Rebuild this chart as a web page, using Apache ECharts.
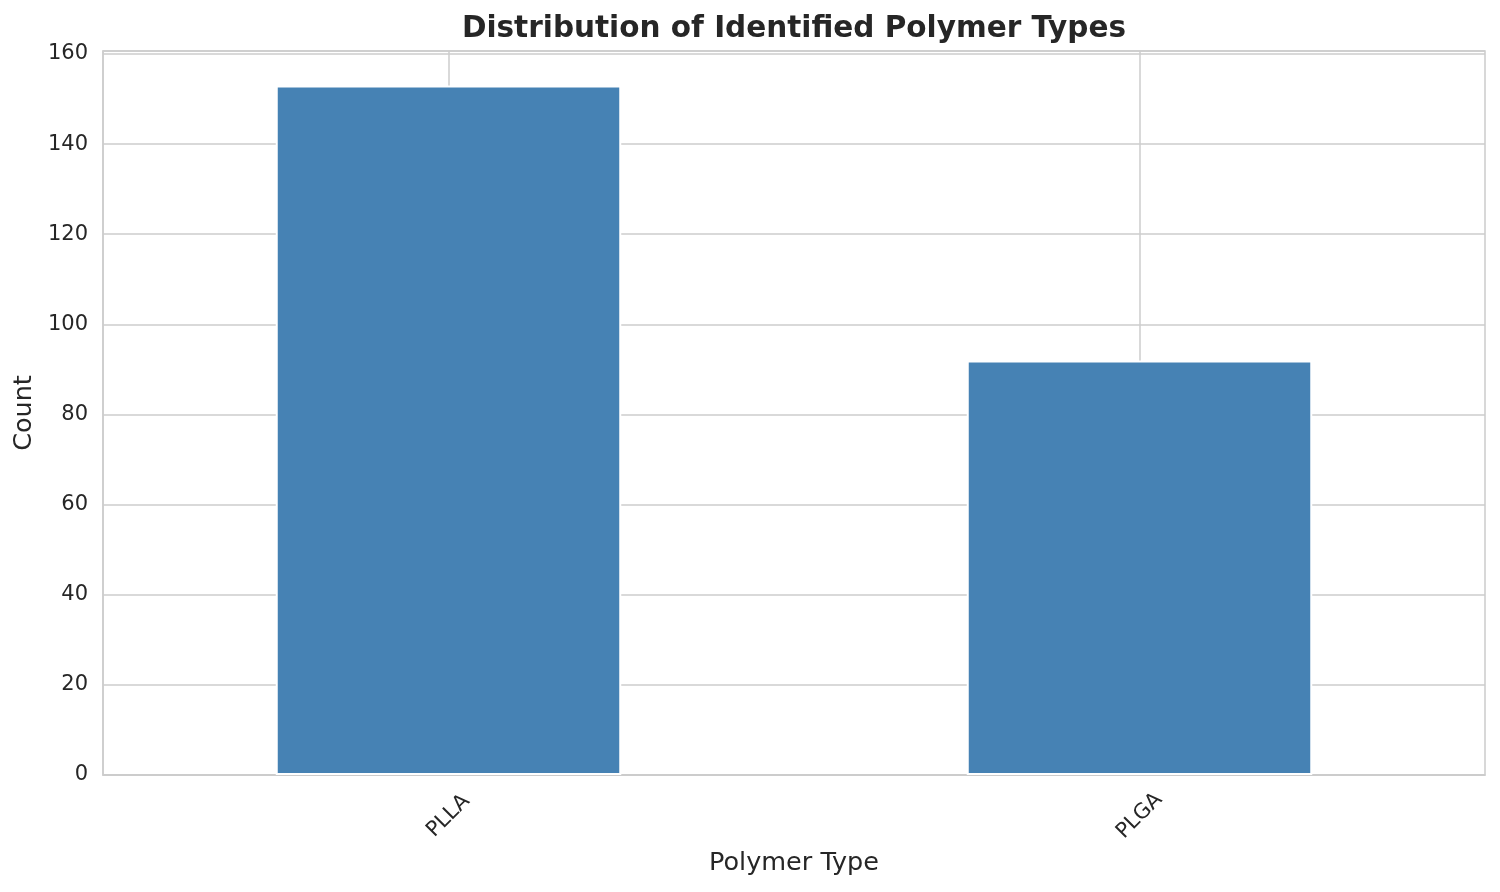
<!DOCTYPE html>
<html>
<head>
<meta charset="utf-8">
<script src="https://cdn.jsdelivr.net/npm/echarts@6/dist/echarts.min.js"></script>
<style>html,body{margin:0;padding:0;background:#fff;}#c{width:1500px;height:892px;}</style>
</head>
<body>
<div id="c"></div>
<script>
const categories = ['PLLA', 'PLGA'];
const counts = [153, 92];
const yTicks = [0, 20, 40, 60, 80, 100, 120, 140, 160];

const chart = echarts.init(document.getElementById('c'), null, {renderer: 'canvas'});
const FONT = '"DejaVu Sans", sans-serif';
const TXT = '#262626';
const GRID = '#cccccc';
chart.setOption({
  backgroundColor: '#ffffff',
  animation: false,
  title: {
    text: 'Distribution of Identified Polymer Types',
    left: 789, top: 9, textAlign: 'center',
    textStyle: {fontFamily: FONT, fontSize: 29.5, fontWeight: 'bold', color: TXT}
  },
  grid: {left: 103, right: 15, top: 51, bottom: 117, show: true, borderColor: GRID, borderWidth: 1.5, containLabel: false},
  xAxis: {
    type: 'category',
    data: categories,
    name: 'Polymer Type',
    nameLocation: 'middle',
    nameGap: 73,
    nameTextStyle: {fontFamily: FONT, fontSize: 25.5, color: TXT},
    axisLine: {show: true, lineStyle: {color: GRID, width: 1.5}},
    axisTick: {show: false},
    axisLabel: {rotate: 45, align: 'center', verticalAlign: 'middle', margin: 41, fontFamily: FONT, fontSize: 21, color: TXT},
    splitLine: {show: true, alignWithLabel: true, lineStyle: {color: GRID, width: 1.5}}
  },
  yAxis: {
    type: 'value',
    min: 0, max: 160.65, interval: 20,
    name: 'Count',
    nameLocation: 'middle',
    nameGap: 63,
    nameTextStyle: {fontFamily: FONT, fontSize: 25.5, color: TXT},
    axisLine: {show: true, lineStyle: {color: GRID, width: 1.5}},
    axisTick: {show: false},
    axisLabel: {margin: 15, fontFamily: FONT, fontSize: 21, color: TXT, showMaxLabel: false,
      formatter: v => (yTicks.indexOf(v) >= 0 ? String(v) : '')},
    splitLine: {show: true, lineStyle: {color: GRID, width: 1.5}}
  },
  series: [{
    type: 'bar',
    data: counts,
    barWidth: '50%',
    itemStyle: {color: '#4682B4', borderColor: '#ffffff', borderWidth: 2}
  }]
});
</script>
</body>
</html>
